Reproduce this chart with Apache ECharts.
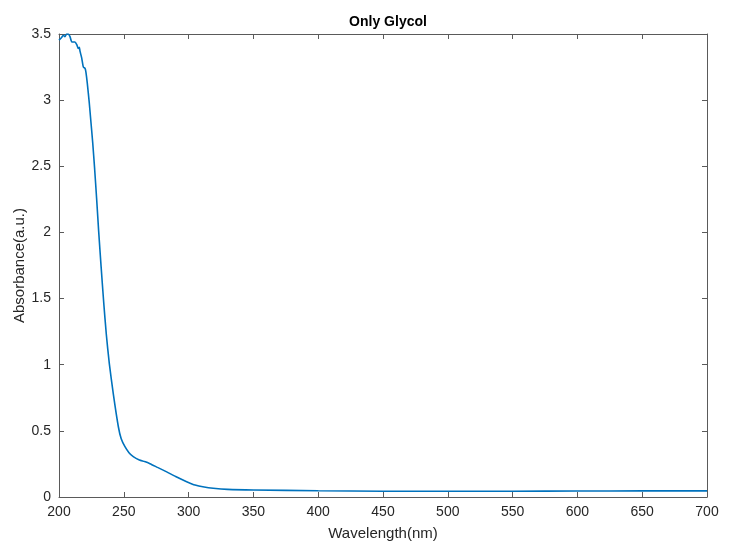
<!DOCTYPE html>
<html>
<head>
<meta charset="utf-8">
<script src="https://cdn.jsdelivr.net/npm/echarts@6/dist/echarts.min.js"></script>
<style>
  html, body { margin: 0; padding: 0; background: #fff; }
  #chart { width: 733px; height: 541px; }
</style>
</head>
<body>
<div id="chart"></div>
<script>
// wavelength (nm) and absorbance
const wavelength = [
  200, 202, 203.3, 204.6, 205.9, 207.2, 208.5, 209.9, 211.1, 212.3, 213.7, 214.9, 215.7, 216.2,
  217.5, 218.8, 220.1, 220.8, 221.8, 223.4, 224.5, 226, 227.5, 229, 230.6, 232.5, 234.5, 236.5,
  238.8, 241.9, 245.8, 248, 250.9, 254, 257.3, 262, 266, 270.2, 276, 283.1, 290, 298.5, 305, 312,
  319, 330, 350, 400, 450, 500, 550, 600, 650, 700
];
const absorbance = [
  3.454, 3.474, 3.49, 3.48, 3.5, 3.5, 3.48, 3.44, 3.44, 3.44, 3.42, 3.39, 3.40, 3.37,
  3.32, 3.25, 3.24, 3.21, 3.13, 2.975, 2.85, 2.68, 2.48, 2.26, 2.01, 1.74, 1.47, 1.23,
  1.01, 0.78, 0.531, 0.44, 0.38, 0.335, 0.305, 0.28, 0.268, 0.252, 0.224, 0.19, 0.155, 0.116, 0.09, 0.075,
  0.066, 0.058, 0.053, 0.047, 0.044, 0.044, 0.044, 0.045, 0.046, 0.046
];
const xTicks = [200, 250, 300, 350, 400, 450, 500, 550, 600, 650, 700];

const chart = echarts.init(document.getElementById('chart'));
const axisColor = '#5a5a5a';
const textColor = '#262626';
const font = 'Liberation Sans, Arial, sans-serif';

const baseX = {
  type: 'value',
  min: 200,
  max: 700,
  interval: 50,
  axisLine: { show: true, onZero: false, lineStyle: { color: axisColor, width: 1 } },
  axisTick: { show: true, inside: true, length: 5, lineStyle: { color: axisColor } },
  splitLine: { show: false }
};
const baseY = {
  type: 'value',
  min: 0,
  max: 3.5,
  interval: 0.5,
  axisLine: { show: true, onZero: false, lineStyle: { color: axisColor, width: 1 } },
  axisTick: { show: true, inside: true, length: 5, lineStyle: { color: axisColor } },
  splitLine: { show: false }
};

const option = {
  animation: false,
  backgroundColor: '#fff',
  title: {
    text: 'Only Glycol',
    left: 383,
    top: 10,
    textAlign: 'center',
    textStyle: { fontFamily: font, fontSize: 14, fontWeight: 'bold', color: '#000' }
  },
  grid: { left: 59, right: 26, top: 34, bottom: 44, outerBoundsMode: 'none', containLabel: false },
  xAxis: [
    Object.assign({}, baseX, {
      position: 'bottom',
      name: 'Wavelength(nm)',
      nameLocation: 'middle',
      nameGap: 29,
      nameMoveOverlap: false,
      nameTextStyle: { fontFamily: font, fontSize: 15, color: textColor },
      axisLabel: { fontFamily: font, fontSize: 14, color: textColor, margin: 8,
        formatter: v => xTicks.includes(v) ? String(v) : '' }
    }),
    Object.assign({}, baseX, { position: 'top', axisLabel: { show: false } })
  ],
  yAxis: [
    Object.assign({}, baseY, {
      position: 'left',
      name: 'Absorbance(a.u.)',
      nameLocation: 'middle',
      nameGap: 32,
      nameMoveOverlap: false,
      nameTextStyle: { fontFamily: font, fontSize: 15, color: textColor },
      axisLabel: { fontFamily: font, fontSize: 14, color: textColor, margin: 8 }
    }),
    Object.assign({}, baseY, { position: 'right', axisLabel: { show: false } })
  ],
  series: [{
    type: 'line',
    data: wavelength.map((w, i) => [w, absorbance[i]]),
    showSymbol: false,
    smooth: 0.2,
    lineStyle: { color: '#0072BD', width: 1.6 },
    clip: true
  }]
};
chart.setOption(option);
</script>
</body>
</html>
